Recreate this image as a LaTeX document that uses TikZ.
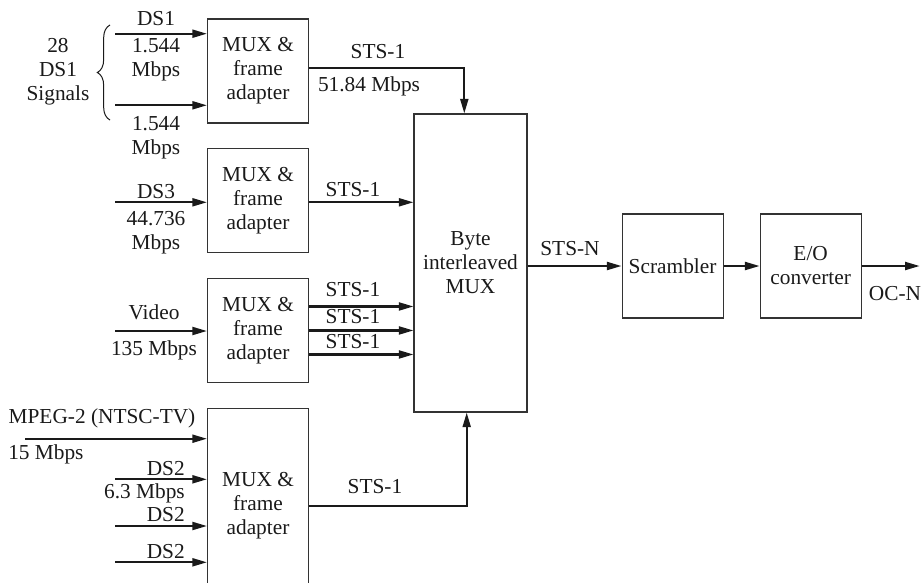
\documentclass[tikz,border=0pt]{standalone}
\usepackage{fontspec}
\setmainfont{Liberation Serif}
\usepackage{tikz}
\usetikzlibrary{arrows.meta,positioning,calc,decorations.pathreplacing}
\definecolor{inkLine}{HTML}{1A1A1A}
\definecolor{boxLine}{HTML}{333333}
\tikzset{
  muxbox/.style={draw=boxLine, line width=0.8pt, minimum width=75.75pt,
    minimum height=78pt, align=center, inner sep=0pt, text=inkLine,
    font=\fontsize{16}{18}\selectfont},
  bigbox/.style={muxbox, minimum width=84.75pt, minimum height=223.5pt},
  sigArc/.style={-{Stealth[length=11pt,width=6pt,inset=0pt]}, line width=1.6pt, draw=inkLine},
  braceLine/.style={draw=inkLine, line width=0.75pt, decorate,
    decoration={brace, amplitude=9.5pt}},
  sigLabel/.style={font=\fontsize{16}{18}\selectfont, align=center,
    inner sep=0pt, text=inkLine},
}

\begin{document}
\begin{tikzpicture}[x=0.75pt, y=-0.75pt]
  \clip (0,0) rectangle (923,582);
  \node[muxbox] (mux1) at (258,71) {MUX \&\\frame\\adapter};
  \node[muxbox, below=18.5pt of mux1] (mux2) {MUX \&\\frame\\adapter};
  \node[muxbox, below=18.5pt of mux2] (mux3) {MUX \&\\frame\\adapter};
  \node[muxbox, minimum height=146.25pt, below=18.5pt of mux3] (mux4) {MUX \&\\frame\\adapter};
  \node[bigbox] (bmux) at (470.5,263) {Byte\\interleaved\\MUX};
  \node[muxbox, right=70.5pt of bmux.east, yshift=-2.25pt] (scr) {Scrambler};
  \node[muxbox, right=27pt of scr] (eo) {E/O\\converter};
  \coordinate[right=43.5pt of eo.east] (ocn);

  \coordinate (inDSa) at (115,33.7);
  \coordinate (inDSb) at (115,105.3);
  \coordinate (inDSc) at (115,202.3);
  \coordinate (inVid) at (115,331);
  \coordinate (inMpeg) at (25,438.7);
  \coordinate (inDSd) at (115,479.3);
  \coordinate (inDSe) at (115,526);
  \coordinate (inDSf) at (115,562.3);

  \draw[sigArc] (inDSa) -- (inDSa -| mux1.west);
  \draw[sigArc] (inDSb) -- (inDSb -| mux1.west);
  \draw[sigArc] (inDSc) -- (inDSc -| mux2.west);
  \draw[sigArc] (inVid) -- (inVid -| mux3.west);
  \draw[sigArc] (inMpeg) -- (inMpeg -| mux4.west);
  \draw[sigArc] (inDSd) -- (inDSd -| mux4.west);
  \draw[sigArc] (inDSe) -- (inDSe -| mux4.west);
  \draw[sigArc] (inDSf) -- (inDSf -| mux4.west);
  \draw[braceLine] (110,120) -- (110,25);

  \draw[sigArc] ([yshift=2.25pt]mux1.east) -| ([xshift=-4.65pt]bmux.north);
  \draw[sigArc] (mux2.east |- inDSc) -- (bmux.west |- inDSc);
  \draw[sigArc] ([yshift=18pt]mux3.east) -- ([yshift=18pt]bmux.west |- mux3.east);
  \draw[sigArc] (mux3.east) -- (bmux.west |- mux3.east);
  \draw[sigArc] ([yshift=-18pt]mux3.east) -- ([yshift=-18pt]bmux.west |- mux3.east);
  \draw[sigArc] (mux4.east) -| ([xshift=-2.85pt]bmux.south);
  \draw[sigArc] (bmux.east |- scr.west) -- (scr.west);
  \draw[sigArc] (scr) -- (eo);
  \draw[sigArc] (eo.east) -- (ocn);

  \node[sigLabel] (sigCount) at (58,72) {28\\DS1\\Signals};
  \node[sigLabel] (ds1Lbl) at (156,19) {DS1};
  \node[sigLabel] (rateA) at (156,60) {1.544\\Mbps};
  \node[sigLabel] (rateB) at (156,137.5) {1.544\\Mbps};
  \node[sigLabel] (ds3Lbl) at (156,192) {DS3};
  \node[sigLabel] (rateC) at (156,232.5) {44.736\\Mbps};
  \node[sigLabel] (vidLbl) at (154,312) {Video};
  \node[sigLabel] (rateD) at (154,350) {135 Mbps};
  \node[sigLabel] (mpegLbl) at (102,418) {MPEG-2 (NTSC-TV)};
  \node[sigLabel, anchor=west] (rateE) at (8,454) {15 Mbps};
  \node[sigLabel, anchor=east] (ds2Lbl) at (185,469) {DS2};
  \node[sigLabel, anchor=east] (rateF) at (185,493) {6.3 Mbps};
  \node[sigLabel, anchor=east] (ds2LblB) at (185,515) {DS2};
  \node[sigLabel, anchor=east] (ds2LblC) at (185,552) {DS2};
  \node[sigLabel] (stsA) at (378,52) {STS-1};
  \node[sigLabel] (rateSts) at (369,86) {51.84 Mbps};
  \node[sigLabel] (stsB) at (353,190) {STS-1};
  \node[sigLabel] (stsC) at (353,290) {STS-1};
  \node[sigLabel] (stsD) at (353,317) {STS-1};
  \node[sigLabel] (stsE) at (353,342) {STS-1};
  \node[sigLabel] (stsF) at (375,487) {STS-1};
  \node[sigLabel] (stsN) at (570,249) {STS-N};
  \node[sigLabel] (ocnLbl) at (895,294) {OC-N};
\end{tikzpicture}
\end{document}
